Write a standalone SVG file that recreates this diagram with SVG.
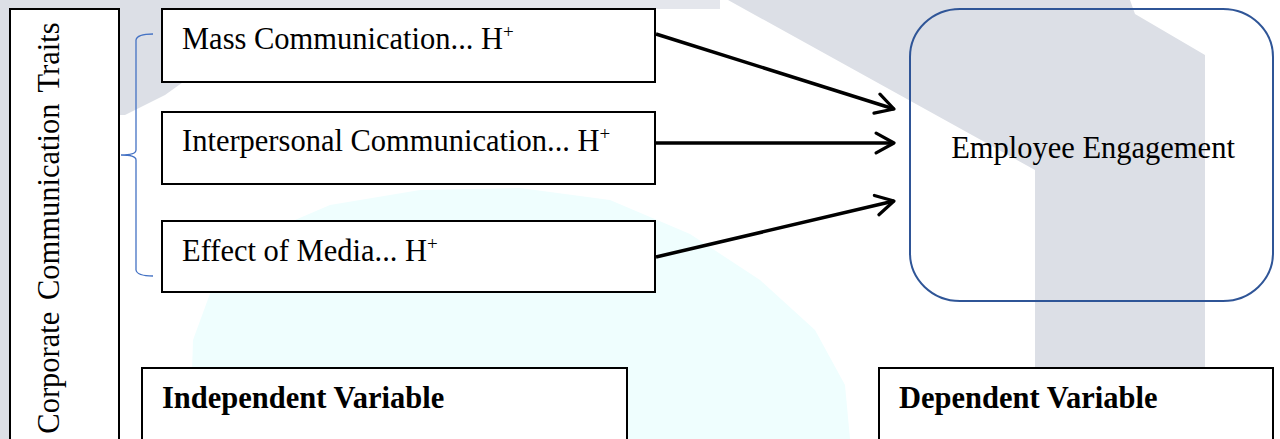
<svg xmlns="http://www.w3.org/2000/svg" width="1280" height="439" viewBox="0 0 1280 439">
  <style>
    .box { fill: #ffffff; stroke: #000000; stroke-width: 2; }
    .txt { font-family: "Liberation Serif", "Times New Roman", serif; font-size: 30.5px; fill: #000000; }
    .bold { font-weight: bold; }
    .sup { font-size: 19px; }
    .conn { stroke: #000000; stroke-width: 3.5; fill: none; }
  </style>
  <defs>
    <marker id="arrow" viewBox="0 0 12 12" refX="10" refY="6" markerWidth="6.8" markerHeight="6.8" markerUnits="strokeWidth" orient="auto">
      <path d="M1,1 L10,6 L1,11" fill="none" stroke="#000000" stroke-width="1.6" stroke-linecap="round" stroke-linejoin="round"/>
    </marker>
  </defs>

  <!-- background watermark -->
  <g id="watermark">
    <rect x="0" y="0" width="1280" height="439" fill="#ffffff"/>
    <path d="M190,439 L193,340 L215,280 L260,235 L330,205 L420,190 L520,188 L610,200 L690,234 L760,280 L815,330 L845,385 L850,439 Z" fill="#effefe"/>
    <rect x="0" y="0" width="720" height="9" fill="#e4e6ec"/>
    <path d="M0,0 L200,0 L200,70 L165,95 L125,115 L10,115 L10,439 L0,439 Z" fill="#dcdfe6"/>
    <path d="M728,0 L1130,0 L1135,14 L1205,55 L1205,368 L1035,368 L1035,170 Z" fill="#dcdfe6"/>
  </g>

  <!-- left vertical label -->
  <g id="traits">
    <rect class="box" x="10" y="9" width="109" height="440"/>
    <text class="txt" transform="translate(59,228) rotate(-90)" text-anchor="middle" word-spacing="4">Corporate Communication Traits</text>
  </g>

  <!-- bracket -->
  <g id="bracket">
    <path d="M153,34 Q137,34 136,40 L136,150 Q136,155 121,155 Q136,155 136,160 L136,270 Q137,276 153,276" fill="none" stroke="#4472c4" stroke-width="1.3"/>
  </g>

  <g id="mass">
    <rect class="box" x="162" y="9" width="493" height="73"/>
    <text class="txt" x="182" y="49">Mass Communication... H<tspan class="sup" dy="-11">+</tspan></text>
  </g>

  <g id="interpersonal">
    <rect class="box" x="162" y="112" width="493" height="72"/>
    <text class="txt" x="182" y="151">Interpersonal Communication... H<tspan class="sup" dy="-11">+</tspan></text>
  </g>

  <g id="media">
    <rect class="box" x="162" y="221" width="493" height="71"/>
    <text class="txt" x="182" y="261">Effect of Media... H<tspan class="sup" dy="-11">+</tspan></text>
  </g>

  <g id="engagement">
    <rect x="910" y="9" width="363" height="292" rx="50" ry="48" fill="none" stroke="#2f5597" stroke-width="2"/>
    <text class="txt" x="1093" y="158" text-anchor="middle">Employee Engagement</text>
  </g>

  <g id="independent">
    <rect class="box" x="142" y="368" width="485" height="80"/>
    <text class="txt bold" x="162" y="408">Independent Variable</text>
  </g>

  <g id="dependent">
    <rect class="box" x="879" y="368" width="394" height="80"/>
    <text class="txt bold" x="899" y="408">Dependent Variable</text>
  </g>

  <g id="connectors">
    <line class="conn" x1="656" y1="34" x2="894" y2="109" marker-end="url(#arrow)"/>
    <line class="conn" x1="656" y1="143" x2="894" y2="143" marker-end="url(#arrow)"/>
    <line class="conn" x1="656" y1="257" x2="894" y2="201" marker-end="url(#arrow)"/>
  </g>
</svg>
